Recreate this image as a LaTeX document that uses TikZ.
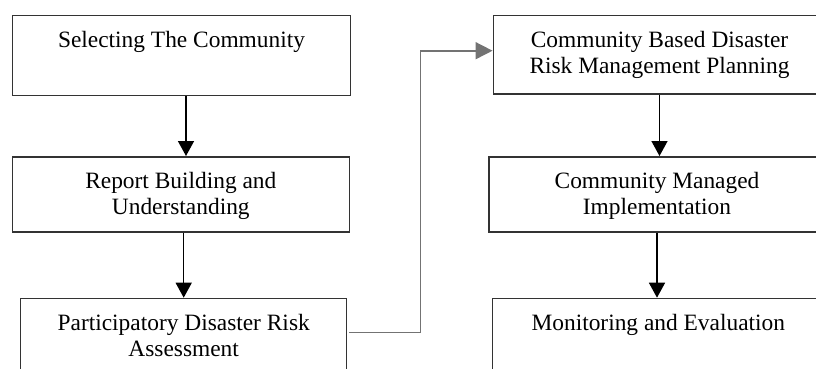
\documentclass[tikz,border=0pt]{standalone}
\usepackage{fontspec}
\setmainfont{Liberation Serif}
\usetikzlibrary{positioning,arrows.meta}

\tikzset{
  stage/.style={draw=black!80, line width=1.5pt, inner sep=0pt, anchor=north,
                align=center, text height=32pt,
                font=\fontsize{23.4}{26}\selectfont},
  twoline/.style={text height=58pt},
  flow/.style={line width=1.5pt, -{Triangle[length=15pt,width=16pt]}},
  jump/.style={draw=black!55, line width=1.6pt, -{Triangle[length=17pt,width=17pt]}}
}

\begin{document}
\begin{tikzpicture}[x=1pt,y=-1pt]
    \useasboundingbox (0,0) rectangle (816,368);
    \clip (0,0) rectangle (816,368);
    % left column
    \node[stage, minimum width=338.4pt, text depth=48pt] (sel) at (181.5,14.7)
        {Selecting The Community};
    \node[stage, twoline, minimum width=337pt, text depth=17pt] (rep) at (180.8,156)
        {Report Building and\\Understanding};
    \node[stage, twoline, minimum width=326pt, text depth=22pt] (par) at (183.7,297.7)
        {Participatory Disaster Risk\\Assessment};
    % right column
    \node[stage, twoline, minimum width=332.4pt, text depth=20.6pt] (cbd) at (659.5,14.7)
        {Community Based Disaster\\Risk Management Planning};
    \node[stage, twoline, minimum width=336pt, text depth=17pt] (cmi) at (657,156)
        {Community Managed\\Implementation};
    \node[stage, minimum width=332pt, text depth=48pt] (mon) at (658.3,297.7)
        {Monitoring and Evaluation};
    % arrows
    \draw[flow] ([xshift=4.5pt]sel.south) -- ([xshift=4.5pt]sel.south |- rep.north);
    \draw[flow] (rep.south -| par.north) -- (par.north);
    \draw[flow] (cbd.south) -- (cbd.south |- cmi.north);
    \draw[flow] (cmi.south) -- (cmi.south |- mon.north);
    \coordinate (turn) at (420.5,50.7);
    \draw[jump] ([xshift=2pt,yshift=6pt]par.east) -| (turn) -- (turn -| cbd.west);
\end{tikzpicture}
\end{document}
